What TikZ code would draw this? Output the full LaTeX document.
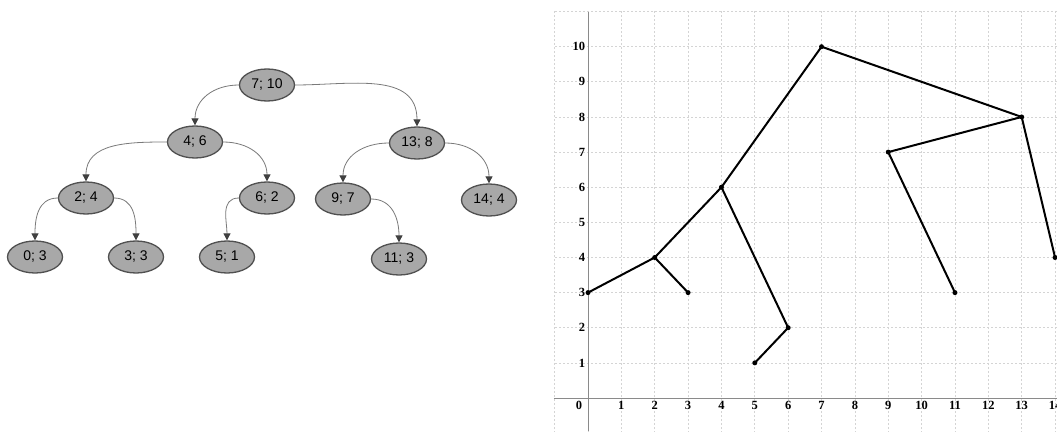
\documentclass[tikz,border=0pt]{standalone}
\usepackage{fontspec}
\setmainfont{Liberation Sans}
\newfontfamily\gfont{Liberation Serif}
\usetikzlibrary{arrows.meta,shapes.geometric}
\definecolor{nodefill}{HTML}{A8A8A8}
\definecolor{nodeline}{HTML}{505050}
\definecolor{edgecol}{HTML}{7A7A7A}
\definecolor{gridcol}{HTML}{D4D4D4}
\definecolor{axiscol}{HTML}{8A8A8A}
\tikzset{
  tnode/.style={ellipse, draw=nodeline, line width=1.3pt, fill=nodefill,
    minimum width=55pt, minimum height=32pt, inner sep=0pt,
    font=\fontsize{14}{16}\selectfont},
  tedge/.style={draw=edgecol, line width=0.8pt,
    -{Triangle[width=7pt,length=7pt,fill=black!75,color=black!75]}},
  gedge/.style={line width=2pt, black},
  gdot/.style={circle, fill=black, inner sep=0pt, minimum size=5pt},
  gridline/.style={gridcol, line width=0.7pt, dash pattern=on 2pt off 2pt},
  axisline/.style={axiscol, line width=1pt},
  glabel/.style={font=\gfont\bfseries\fontsize{12.5}{14}\selectfont, inner sep=1pt}
}
\begin{document}
\begin{tikzpicture}[x=1pt,y=-1pt]
\useasboundingbox (0,0) rectangle (1057,431);
\fill[white] (0,0) rectangle (1057,431);

% ---------- tree ----------
\node[tnode] (n710) at (267,85) {7; 10};
\node[tnode] (n46)  at (195,142) {4; 6};
\node[tnode] (n138) at (417,143) {13; 8};
\node[tnode] (n24)  at (86,198) {2; 4};
\node[tnode] (n62)  at (267,198) {6; 2};
\node[tnode] (n97)  at (343,199) {9; 7};
\node[tnode] (n144) at (489,200) {14; 4};
\node[tnode] (n03)  at (35,257) {0; 3};
\node[tnode] (n33)  at (136,257) {3; 3};
\node[tnode] (n51)  at (227,257) {5; 1};
\node[tnode] (n113) at (399,259) {11; 3};

\draw[tedge] (n710.west) to[out=180,in=90,looseness=1.1] (n46.north);
\draw[tedge] (n710.east) to[out=0,in=90,looseness=1.1] (n138.north);
\draw[tedge] (n46.west) to[out=180,in=90,looseness=1.1] (n24.north);
\draw[tedge] (n46.east) to[out=0,in=90,looseness=1.1] (n62.north);
\draw[tedge] (n138.west) to[out=180,in=90,looseness=1.1] (n97.north);
\draw[tedge] (n138.east) to[out=0,in=90,looseness=1.1] (n144.north);
\draw[tedge] (n24.west) to[out=180,in=90,looseness=1.1] (n03.north);
\draw[tedge] (n24.east) to[out=0,in=90,looseness=1.1] (n33.north);
\draw[tedge] (n62.west) to[out=180,in=90,looseness=1.1] (n51.north);
\draw[tedge] (n97.east) to[out=0,in=90,looseness=1.1] (n113.north);

% ---------- graph ----------
\begin{scope}[shift={(588pt,-398pt)}, x=33.36pt, y=35.13pt]
  \begin{scope}
    \clip (-1.02,-0.95) rectangle (14.2,11.02);
    \foreach \i in {-1,...,14} \draw[gridline] (\i,-1) -- (\i,11.1);
    \foreach \j in {1,...,11} \draw[gridline] (-1.1,\j) -- (14.2,\j);
    \draw[gridline] (-1.1,-1) -- (14.2,-1);
  \end{scope}
  \draw[axisline] (-1.02,0) -- (14.2,0);
  \draw[axisline] (0,10.98) -- (0,-0.95);

  \node[glabel] (x0) at (-0.27,-0.22) {0};
  \foreach \i in {1,...,14} \node[glabel] (x\i) at (\i,-0.22) {\i};
  \foreach \j in {1,...,10} \node[glabel, anchor=east] (y\j) at (-0.05,\j) {\j};

  \node[gdot] (p03)  at (0,3) {};
  \node[gdot] (p24)  at (2,4) {};
  \node[gdot] (p33)  at (3,3) {};
  \node[gdot] (p46)  at (4,6) {};
  \node[gdot] (p62)  at (6,2) {};
  \node[gdot] (p51)  at (5,1) {};
  \node[gdot] (p710) at (7,10) {};
  \node[gdot] (p138) at (13,8) {};
  \node[gdot] (p97)  at (9,7) {};
  \node[gdot] (p113) at (11,3) {};
  \node[gdot] (p144) at (14,4) {};

  \draw[gedge] (p03.center) -- (p24.center);
  \draw[gedge] (p24.center) -- (p33.center);
  \draw[gedge] (p24.center) -- (p46.center);
  \draw[gedge] (p46.center) -- (p62.center);
  \draw[gedge] (p62.center) -- (p51.center);
  \draw[gedge] (p46.center) -- (p710.center);
  \draw[gedge] (p710.center) -- (p138.center);
  \draw[gedge] (p138.center) -- (p97.center);
  \draw[gedge] (p97.center) -- (p113.center);
  \draw[gedge] (p138.center) -- (p144.center);
\end{scope}
\end{tikzpicture}
\end{document}
